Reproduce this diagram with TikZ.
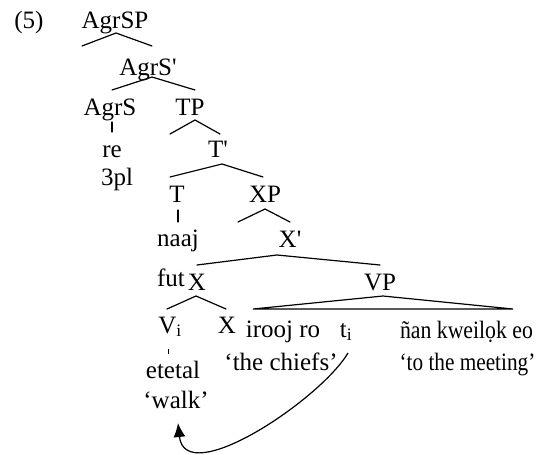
\documentclass[tikz,border=0pt]{standalone}
\usepackage{graphicx}
\usepackage{fontspec}
\setmainfont{Liberation Serif}[Ligatures=TeXOff]
\usetikzlibrary{arrows.meta}
\begin{document}
\begin{tikzpicture}[x=1pt,y=-1pt,
  lbl/.style={anchor=base,inner sep=0pt,font=\fontsize{25}{30}\selectfont},
  branch/.style={line width=1.2pt,line cap=round}]
\useasboundingbox (0,0) rectangle (538,455);
% labels
\node[lbl] (ex) at (29,28) {(5)};
\node[lbl] (agrsp) at (115,28) {AgrSP};
\node[lbl] (agrsbar) at (148,75) {AgrS'};
\node[lbl] (agrs) at (110,115) {AgrS};
\node[lbl] (tp) at (190,115) {TP};
\node[lbl] (re) at (112,157) {re};
\node[lbl] (tbar) at (218,157) {T'};
\node[lbl] (pl) at (117,185) {3pl};
\node[lbl] (t) at (177,202) {T};
\node[lbl] (xp) at (265,202) {XP};
\node[lbl] (naaj) at (178,246) {naaj};
\node[lbl] (xbar) at (290,247) {X'};
\node[lbl] (fut) at (171,286) {fut};
\node[lbl] (x) at (197,290) {X};
\node[lbl] (vp) at (380,290) {VP};
\node[lbl] (vi) at (170,333) {V\textsubscript{i}};
\node[lbl] (x2) at (227,333) {X};
\node[lbl] (irooj) at (283,337) {irooj ro};
\node[lbl] (ti) at (346,337) {t\textsubscript{i}};
\node[lbl] (nan) at (466.5,338) {\scalebox{0.87}[1]{ñan kweilọk eo}};
\node[lbl] (chiefs) at (281,370) {‘the chiefs’};
\node[lbl] (meeting) at (467.5,370) {\scalebox{0.85}[1]{‘to the meeting’}};
\node[lbl] (etetal) at (173,378) {etetal};
\node[lbl] (walk) at (176,408) {‘walk’};
% branch points
\coordinate (a1) at (116,33); \coordinate (a1l) at (82,46); \coordinate (a1r) at (152,46);
\coordinate (a2) at (152,77); \coordinate (a2l) at (112,90); \coordinate (a2r) at (195,90);
\coordinate (a3t) at (112,122); \coordinate (a3b) at (112,132);
\coordinate (a4) at (195,120); \coordinate (a4l) at (170,134); \coordinate (a4r) at (220,134);
\coordinate (a5) at (222,164); \coordinate (a5l) at (170,177); \coordinate (a5r) at (263,177);
\coordinate (a6t) at (178,210); \coordinate (a6b) at (178,222);
\coordinate (a7) at (265,209); \coordinate (a7l) at (238,222); \coordinate (a7r) at (290,222);
\coordinate (a8) at (277,255); \coordinate (a8l) at (197,265); \coordinate (a8r) at (380,265);
\coordinate (a9) at (196,296); \coordinate (a9l) at (167,309); \coordinate (a9r) at (226,309);
\coordinate (vpa) at (383,296); \coordinate (vpl) at (253,309); \coordinate (vpr) at (513,309);
\coordinate (tickt) at (168,349); \coordinate (tickb) at (168,354);
\coordinate (mvs) at (348,353); \coordinate (mve) at (178,423);
% branches
\draw[branch] (a1l) -- (a1) -- (a1r);
\draw[branch] (a2l) -- (a2) -- (a2r);
\draw[branch] (a3t) -- (a3b);
\draw[branch] (a4l) -- (a4) -- (a4r);
\draw[branch] (a5l) -- (a5) -- (a5r);
\draw[branch] (a6t) -- (a6b);
\draw[branch] (a7l) -- (a7) -- (a7r);
\draw[branch] (a8l) -- (a8) -- (a8r);
\draw[branch] (a9l) -- (a9) -- (a9r);
\draw[branch,line join=miter] (vpl) -- (vpa) -- (vpr) -- cycle;
\draw[line width=1pt] (tickt) -- (tickb);
% movement arrow
\draw[line width=1.2pt,-{Latex[length=14pt,width=12pt]}]
  (mvs) .. controls (320,400) and (185,490) .. (mve);
\end{tikzpicture}
\end{document}
